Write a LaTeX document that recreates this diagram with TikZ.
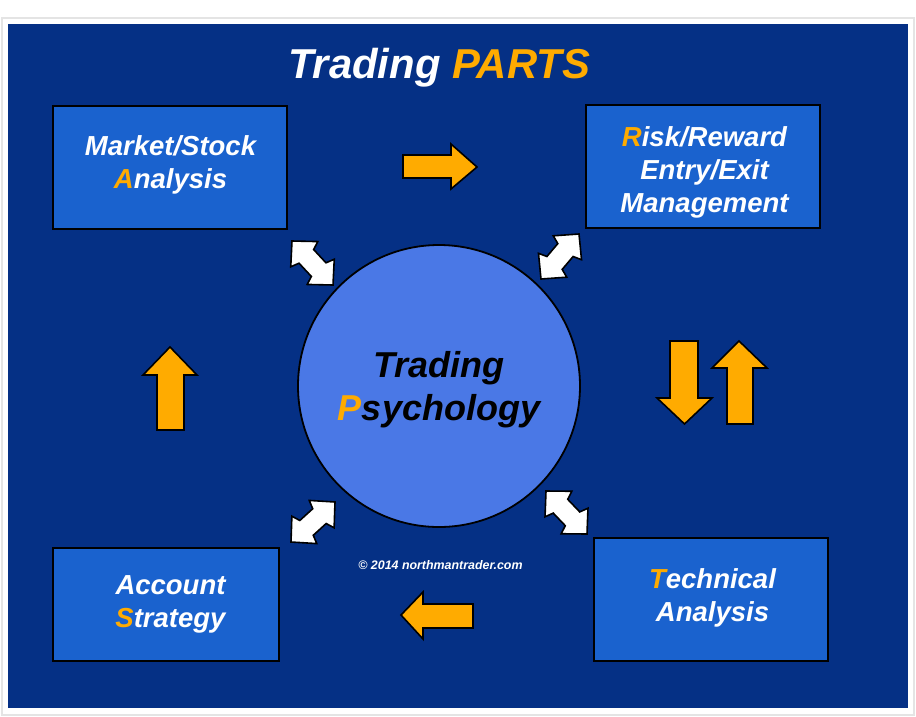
\documentclass[tikz,border=0pt]{standalone}
\usepackage{fontspec}
\setmainfont{Liberation Sans}
\usetikzlibrary{calc}
\definecolor{bgblue}{HTML}{053085}
\definecolor{boxblue}{HTML}{1A62CE}
\definecolor{circblue}{HTML}{4A78E6}
\definecolor{amber}{HTML}{FFAB00}
\definecolor{framegray}{HTML}{E4E4E4}
\newcommand{\hl}[1]{\textcolor{amber}{#1}}
\newcommand{\dblarrow}[2]{%
  \coordinate (A) at (#1); \coordinate (B) at (#2);
  \draw[whitearrow] (A)
    -- ($(A)!18pt!(B)!18.5pt!90:(A)$)
    -- ($(A)!21pt!(B)!10pt!90:(A)$)
    -- ($(B)!21pt!(A)!10pt!-90:(B)$)
    -- ($(B)!18pt!(A)!18.5pt!-90:(B)$)
    -- (B)
    -- ($(B)!18pt!(A)!18.5pt!90:(B)$)
    -- ($(B)!21pt!(A)!10pt!90:(B)$)
    -- ($(A)!21pt!(B)!10pt!-90:(A)$)
    -- ($(A)!18pt!(B)!18.5pt!-90:(A)$)
    -- cycle;}
\tikzset{
  panel/.style={draw=black,fill=boxblue,line width=1.6pt,rectangle,inner sep=0pt,outer sep=0pt},
  boxtext/.style={text=white,align=center,inner sep=0pt,font=\fontsize{27.5}{33}\selectfont\bfseries\itshape},
  orangearrow/.style={draw=black,fill=amber,line width=1.6pt,line join=miter},
  whitearrow/.style={draw=black,fill=white,line width=1.6pt,line join=miter},
}
\begin{document}
\begin{tikzpicture}[x=1pt,y=-1pt]
\useasboundingbox (0,0) rectangle (916,716);
\fill[white] (0,0) rectangle (916,716);
\draw[framegray,line width=1.6pt] (2,18) rectangle (914,715);
\fill[bgblue] (8,24) rectangle (908,708);
\node[anchor=base,inner sep=0pt,text=white,font=\fontsize{41.8}{48}\selectfont\bfseries\itshape] (title) at (439,78) {Trading \hl{PARTS}};
\node[panel,minimum width=234pt,minimum height=123pt] (market) at (170,167.5) {};
\node[panel,minimum width=234pt,minimum height=123pt] (risk) at (703,166.5) {};
\node[panel,minimum width=234pt,minimum height=123pt] (tech) at (711,599.5) {};
\node[panel,minimum width=226pt,minimum height=113pt] (account) at (166,604.5) {};
\node[boxtext] (markett) at (170.5,165) {Market/Stock\\\hl{A}nalysis};
\node[boxtext] (riskt) at (704.5,172.5) {\hl{R}isk/Reward\\Entry/Exit\\Management};
\node[boxtext] (techt) at (712.5,598) {\hl{T}echnical\\Analysis};
\node[boxtext] (accountt) at (170.5,604) {Account\\\hl{S}trategy};
\node[circle,draw=black,fill=circblue,line width=1.8pt,minimum size=282pt,inner sep=0pt,outer sep=0pt] (psy) at (439,386) {};
\node[align=center,inner sep=0pt,text=black,font=\fontsize{36}{43}\selectfont\bfseries\itshape] (psyt) at (439,389.5) {Trading\\\hl{P}sychology};
\node[anchor=base,inner sep=0pt,text=white,font=\fontsize{12.4}{15}\selectfont\bfseries\itshape] (copy) at (440.5,569) {© 2014 northmantrader.com};
% block arrows
\draw[orangearrow] (403,155) -- (451,155) -- (451,144) -- (477,167) -- (451,189) -- (451,178) -- (403,178) -- cycle;
\draw[orangearrow] (170,347) -- (197,375) -- (184,375) -- (184,430) -- (157,430) -- (157,375) -- (143,375) -- cycle;
\draw[orangearrow] (670,341) -- (698,341) -- (698,398) -- (712,398) -- (684.5,424) -- (657,398) -- (670,398) -- cycle;
\draw[orangearrow] (739,341) -- (767,368) -- (753,368) -- (753,424) -- (727,424) -- (727,368) -- (712,368) -- cycle;
\draw[orangearrow] (401,615) -- (423,592) -- (423,604) -- (473,604) -- (473,628) -- (423,628) -- (423,639) -- cycle;
% double arrows
\dblarrow{292,241}{333,285}
\dblarrow{579,234}{541,279}
\dblarrow{546,491}{587,534}
\dblarrow{335,502}{291,542}
\end{tikzpicture}
\end{document}
